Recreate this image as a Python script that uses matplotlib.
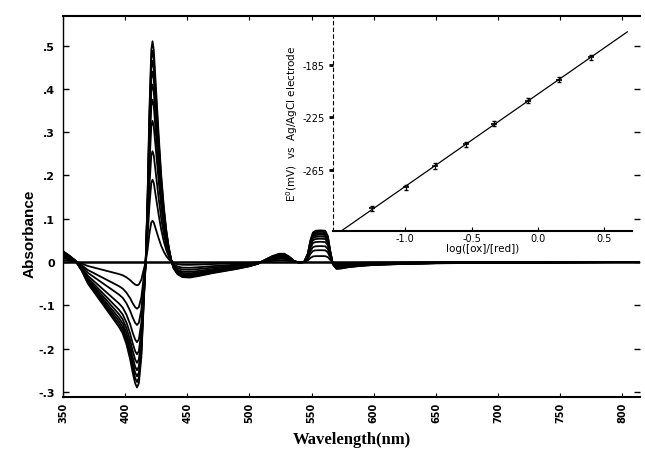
import numpy as np
import matplotlib
matplotlib.use("Agg")
import matplotlib.pyplot as plt
from matplotlib.ticker import FuncFormatter

# reduced-minus-oxidized difference spectrum of the most reduced sample
wavelength = [350, 355, 360, 365, 370, 375, 380, 385, 390, 395, 398, 401, 404, 406, 408,
              409.5, 411, 413, 415, 416.5, 418, 419.5, 421, 422, 423, 425, 427, 429, 431,
              433, 435, 437, 439, 442, 446, 452, 460, 470, 480, 490, 500, 507, 512, 518,
              524, 528, 532, 536, 540, 544, 547, 549, 551, 553, 557, 561, 563, 565, 567,
              570, 574, 580, 590, 600, 620, 650, 700, 750, 814]
full_spectrum = [0.025, 0.015, 0.003, -0.02, -0.05, -0.07, -0.09, -0.11, -0.13, -0.15, -0.165,
                 -0.19, -0.225, -0.255, -0.28, -0.29, -0.28, -0.22, -0.09, 0.0, 0.15, 0.35,
                 0.49, 0.51, 0.49, 0.39, 0.29, 0.20, 0.13, 0.075, 0.035, 0.005, -0.015,
                 -0.028, -0.035, -0.036, -0.032, -0.026, -0.021, -0.016, -0.010, -0.004,
                 0.004, 0.013, 0.019, 0.019, 0.012, 0.002, -0.002, 0.0, 0.020, 0.050,
                 0.068, 0.072, 0.073, 0.072, 0.060, 0.025, -0.005, -0.016, -0.015, -0.012,
                 -0.009, -0.007, -0.005, -0.003, -0.002, -0.001, 0.0]

# Soret peak height of each titration step (0 = fully oxidized baseline)
peak_heights = [0.0, 0.095, 0.19, 0.256, 0.326, 0.375, 0.41, 0.44, 0.465, 0.488, 0.51]

# inset: Nernst plot
log_ratio = [-1.252, -0.992, -0.773, -0.545, -0.331, -0.078, 0.161, 0.402]
potential = [-294.1, -278.0, -262.0, -245.6, -229.9, -212.3, -196.4, -179.5]
potential_err = [2, 2, 2, 2, 2, 2, 2, 2]

x_ticks = [350, 400, 450, 500, 550, 600, 650, 700, 750, 800]
y_ticks = [0.5, 0.4, 0.3, 0.2, 0.1, 0.0, -0.1, -0.2, -0.3]
inset_xticks = [-1.0, -0.5, 0.0, 0.5]
inset_xlabels = ["-1.0", "-0.5", "0.0", "0.5"]
inset_yticks = [-185, -225, -265]
inset_ylabels = ["-185", "-225", "-265"]

fig = plt.figure(figsize=(6.45, 4.6), dpi=100)
ax = fig.add_axes([0.0977, 0.1348, 0.8943, 0.8289])

wl = np.array(wavelength)
base = np.array(full_spectrum) / max(full_spectrum)
for h in peak_heights:
    ax.plot(wl, base * h, color="black", lw=1.3 if h > 0 else 1.8)

ax.set_xlim(350, 814)
ax.set_ylim(-0.312, 0.569)
ax.set_xticks(x_ticks)
ax.set_yticks(y_ticks)


def short_label(v, pos):
    if abs(v) < 1e-9:
        return "0"
    return f"{v:.1f}".replace("0.", ".")


ax.yaxis.set_major_formatter(FuncFormatter(short_label))
ax.tick_params(axis="y", direction="in", length=4, width=1, labelsize=8, right=True, pad=6)
ax.tick_params(axis="x", direction="in", length=3, width=0.8, labelsize=7, top=True,
               labelrotation=90)
for lab in ax.get_yticklabels() + ax.get_xticklabels():
    lab.set_fontweight("bold")
ax.spines["right"].set_visible(False)
ax.spines["left"].set_linewidth(1.0)
ax.spines["bottom"].set_linewidth(1.5)
ax.spines["top"].set_linewidth(1.5)

ax.set_ylabel("Absorbance", fontsize=11, fontweight="bold", family="Liberation Sans")
ax.yaxis.set_label_coords(-0.045, 0.43)
ax.set_xlabel("Wavelength(nm)", fontsize=12, fontweight="bold", family="Liberation Serif")
ax.xaxis.set_label_coords(0.5, -0.09)

# inset
ax_in = fig.add_axes([0.5163, 0.4963, 0.4637, 0.4674])
ax_in.patch.set_alpha(0)
fit = np.polyfit(log_ratio, potential, 1)
xfit = np.array([-1.545, 0.674])
ax_in.plot(xfit, np.polyval(fit, xfit), color="black", lw=0.9)
ax_in.errorbar(log_ratio, potential, yerr=potential_err, fmt="none", ecolor="black",
               elinewidth=0.9, capsize=1.5)
ax_in.plot(log_ratio, potential, "k_", ms=4, mew=1.2)
ax_in.set_xlim(-1.545, 0.71)
ax_in.set_ylim(-311, -148)
ax_in.set_xticks(inset_xticks)
ax_in.set_xticklabels(inset_xlabels)
ax_in.set_yticks(inset_yticks)
ax_in.set_yticklabels(inset_ylabels)
ax_in.tick_params(axis="x", direction="in", length=3, labelsize=7, pad=2)
ax_in.tick_params(axis="y", direction="out", length=3, width=2, labelsize=7, pad=3)
ax_in.spines["top"].set_visible(False)
ax_in.spines["right"].set_visible(False)
ax_in.spines["left"].set_linestyle((0, (3, 3)))
ax_in.spines["left"].set_linewidth(0.8)
ax_in.spines["bottom"].set_linewidth(1.5)
ax_in.set_xlabel("log([ox]/[red])", fontsize=7.5, labelpad=0)
ax_in.set_ylabel("E$^0$(mV)  vs  Ag/AgCl electrode", fontsize=7.5, labelpad=2)

fig.savefig("out.png", dpi=100)
